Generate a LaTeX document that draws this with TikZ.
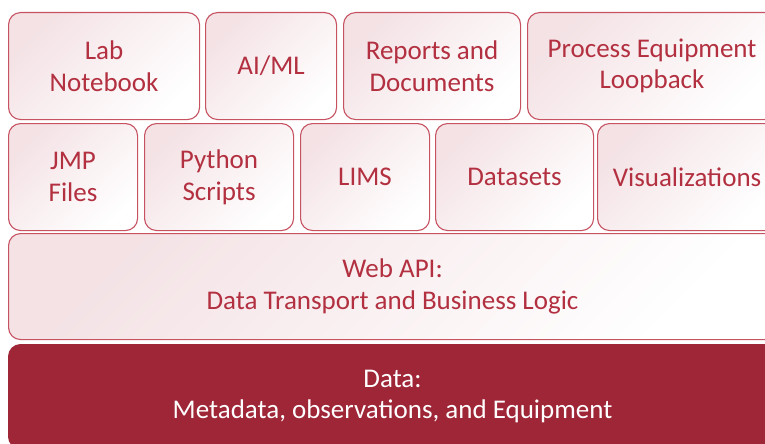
\documentclass[tikz,border=0pt]{standalone}
\usepackage{fontspec}
\setmainfont{Carlito}
\definecolor{bordc}{RGB}{198,82,98}
\definecolor{txtc}{RGB}{178,48,64}
\definecolor{pinkc}{RGB}{244,226,229}
\definecolor{datac}{RGB}{158,38,54}
\begin{document}
\begin{tikzpicture}[x=1pt,y=-1pt,
  box/.style={draw=bordc, line width=1.1pt, rounded corners=12pt,
    top color=pinkc, middle color=pinkc!25!white, bottom color=white, shading angle=45,
    text=txtc, align=center, font=\fontsize{27}{31.5}\selectfont,
    anchor=north west, inner sep=0pt},
  databox/.style={fill=datac, draw=datac, line width=1.1pt, rounded corners=12pt,
    text=white, align=center, font=\fontsize{27}{31.5}\selectfont,
    anchor=north west, inner sep=0pt}]
\useasboundingbox (0,0) rectangle (765,444);
\clip (0,0) rectangle (765,444);
% row 1
\node[box, minimum width=191pt, minimum height=107pt] (lab) at (8,12) {Lab\\Notebook};
\node[box, minimum width=131pt, minimum height=107pt] (aiml) at (205,12) {AI/ML};
\node[box, minimum width=177pt, minimum height=107pt] (reports) at (343,12) {Reports and\\Documents};
\node[box, minimum width=249pt, minimum height=107pt] (process) at (527,12) {Process Equipment\\Loopback};
% row 2
\node[box, minimum width=129pt, minimum height=107pt] (jmp) at (8,123) {JMP\\Files};
\node[box, minimum width=149pt, minimum height=107pt] (python) at (144,123) {Python\\Scripts};
\node[box, minimum width=129pt, minimum height=107pt] (lims) at (300,123) {LIMS};
\node[box, minimum width=158pt, minimum height=107pt] (datasets) at (435,123) {Datasets};
\node[box, minimum width=179pt, minimum height=107pt] (vis) at (597,123) {Visualizations};
% row 3
\node[box, minimum width=768pt, minimum height=106pt] (webapi) at (8,233) {Web API:\\Data Transport and Business Logic};
% row 4
\node[databox, minimum width=768pt, minimum height=104pt] (data) at (8,344) {Data:\\Metadata, observations, and Equipment};
\end{tikzpicture}
\end{document}
